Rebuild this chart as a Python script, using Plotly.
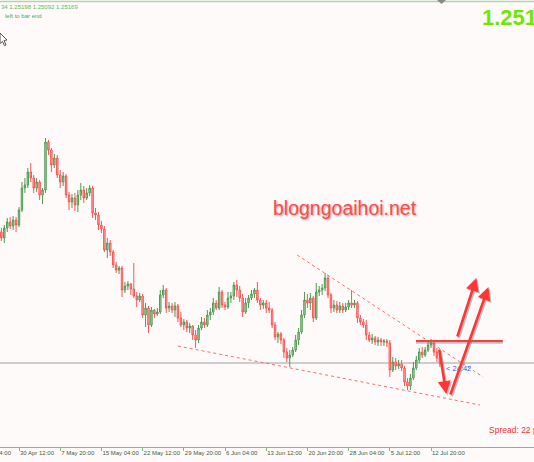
import plotly.graph_objects as go

W, H = 534, 462
PLOT_H = 447

# ---- data (GBPUSD H4, prices) ----
bar_index = list(range(150))
opens = [1.2648,1.2642,1.2652,1.2658,1.2654,1.2660,1.2655,1.2670,1.2692,1.2695,
         1.2708,1.2702,1.2692,1.2698,1.2685,1.2690,1.2738,1.2730,1.2715,1.2722,
         1.2705,1.2698,1.2704,1.2685,1.2678,1.2682,1.2675,1.2685,1.2690,1.2682,
         1.2687,1.2692,1.2667,1.2665,1.2655,1.2651,1.2630,1.2637,1.2628,1.2615,
         1.2610,1.2612,1.2590,1.2594,1.2596,1.2591,1.2584,1.2580,1.2584,1.2565,
         1.2572,1.2555,1.2570,1.2566,1.2568,1.2585,1.2590,1.2572,1.2574,1.2570,
         1.2574,1.2562,1.2555,1.2558,1.2552,1.2554,1.2545,1.2540,1.2552,1.2558,
         1.2555,1.2565,1.2568,1.2577,1.2572,1.2588,1.2575,1.2573,1.2582,1.2584,
         1.2595,1.2590,1.2582,1.2568,1.2577,1.2582,1.2586,1.2590,1.2580,1.2575,
         1.2577,1.2572,1.2570,1.2555,1.2543,1.2546,1.2540,1.2528,1.2522,1.2525,
         1.2530,1.2540,1.2548,1.2565,1.2580,1.2577,1.2582,1.2562,1.2588,1.2590,
         1.2592,1.2602,1.2585,1.2572,1.2575,1.2570,1.2574,1.2570,1.2573,1.2577,
         1.2575,1.2577,1.2562,1.2558,1.2555,1.2545,1.2540,1.2542,1.2538,1.2540,
         1.2538,1.2539,1.2537,1.2510,1.2518,1.2514,1.2516,1.2512,1.2498,1.2494,
         1.2502,1.2512,1.2520,1.2528,1.2525,1.2530,1.2535,1.2537,1.2528,1.2522]
highs = [1.2652,1.2655,1.2662,1.2663,1.2664,1.2663,1.2673,1.2698,1.2702,1.2712,
         1.2717,1.2705,1.2702,1.2700,1.2692,1.2742,1.2740,1.2732,1.2726,1.2725,
         1.2710,1.2708,1.2706,1.2688,1.2686,1.2687,1.2690,1.2697,1.2694,1.2692,
         1.2695,1.2694,1.2672,1.2668,1.2659,1.2654,1.2642,1.2640,1.2630,1.2618,
         1.2614,1.2614,1.2598,1.2599,1.2597,1.2617,1.2588,1.2587,1.2586,1.2577,
         1.2574,1.2573,1.2571,1.2572,1.2590,1.2595,1.2592,1.2578,1.2577,1.2578,
         1.2576,1.2568,1.2561,1.2560,1.2557,1.2555,1.2550,1.2555,1.2563,1.2562,
         1.2570,1.2572,1.2582,1.2580,1.2593,1.2590,1.2578,1.2588,1.2588,1.2598,
         1.2600,1.2594,1.2586,1.2582,1.2585,1.2590,1.2592,1.2598,1.2582,1.2580,
         1.2580,1.2578,1.2572,1.2558,1.2548,1.2548,1.2542,1.2532,1.2530,1.2533,
         1.2545,1.2552,1.2570,1.2588,1.2586,1.2587,1.2584,1.2597,1.2594,1.2596,
         1.2607,1.2605,1.2587,1.2580,1.2579,1.2578,1.2577,1.2577,1.2580,1.2590,
         1.2580,1.2579,1.2565,1.2561,1.2560,1.2548,1.2546,1.2544,1.2543,1.2542,
         1.2541,1.2541,1.2540,1.2523,1.2522,1.2520,1.2520,1.2514,1.2502,1.2506,
         1.2518,1.2524,1.2532,1.2533,1.2533,1.2538,1.2541,1.2539,1.2532,1.2525]
lows = [1.2639,1.2637,1.2648,1.2651,1.2650,1.2648,1.2653,1.2668,1.2687,1.2692,
        1.2698,1.2687,1.2688,1.2680,1.2676,1.2687,1.2725,1.2708,1.2712,1.2702,
        1.2692,1.2694,1.2682,1.2670,1.2672,1.2669,1.2668,1.2680,1.2677,1.2680,
        1.2684,1.2662,1.2660,1.2650,1.2647,1.2628,1.2622,1.2624,1.2612,1.2607,
        1.2606,1.2583,1.2587,1.2590,1.2585,1.2582,1.2573,1.2578,1.2562,1.2553,
        1.2547,1.2553,1.2562,1.2564,1.2566,1.2582,1.2567,1.2568,1.2567,1.2563,
        1.2558,1.2553,1.2550,1.2548,1.2547,1.2540,1.2532,1.2537,1.2550,1.2552,
        1.2553,1.2560,1.2565,1.2570,1.2570,1.2572,1.2570,1.2571,1.2577,1.2580,
        1.2583,1.2578,1.2563,1.2566,1.2572,1.2580,1.2582,1.2577,1.2570,1.2571,
        1.2567,1.2567,1.2552,1.2540,1.2537,1.2536,1.2522,1.2518,1.2513,1.2523,
        1.2528,1.2535,1.2546,1.2562,1.2572,1.2570,1.2558,1.2560,1.2584,1.2585,
        1.2589,1.2582,1.2567,1.2568,1.2567,1.2567,1.2567,1.2568,1.2570,1.2572,
        1.2572,1.2557,1.2555,1.2552,1.2540,1.2538,1.2536,1.2535,1.2534,1.2534,
        1.2534,1.2533,1.2503,1.2508,1.2510,1.2511,1.2509,1.2494,1.2490,1.2490,
        1.2500,1.2510,1.2517,1.2522,1.2523,1.2528,1.2532,1.2524,1.2518,1.2513]
closes = [1.2642,1.2652,1.2658,1.2654,1.2660,1.2655,1.2670,1.2692,1.2695,1.2708,
          1.2702,1.2692,1.2698,1.2685,1.2690,1.2738,1.2730,1.2715,1.2722,1.2705,
          1.2698,1.2704,1.2685,1.2678,1.2682,1.2675,1.2685,1.2690,1.2682,1.2687,
          1.2692,1.2667,1.2665,1.2655,1.2651,1.2630,1.2637,1.2628,1.2615,1.2610,
          1.2612,1.2590,1.2594,1.2596,1.2591,1.2584,1.2580,1.2584,1.2565,1.2572,
          1.2555,1.2570,1.2566,1.2568,1.2585,1.2590,1.2572,1.2574,1.2570,1.2574,
          1.2562,1.2555,1.2558,1.2552,1.2554,1.2545,1.2540,1.2552,1.2558,1.2555,
          1.2565,1.2568,1.2577,1.2572,1.2588,1.2575,1.2573,1.2582,1.2584,1.2595,
          1.2590,1.2582,1.2568,1.2577,1.2582,1.2586,1.2590,1.2580,1.2575,1.2577,
          1.2572,1.2570,1.2555,1.2543,1.2546,1.2540,1.2528,1.2522,1.2525,1.2530,
          1.2540,1.2548,1.2565,1.2580,1.2577,1.2582,1.2562,1.2588,1.2590,1.2592,
          1.2602,1.2585,1.2572,1.2575,1.2570,1.2574,1.2570,1.2573,1.2577,1.2575,
          1.2577,1.2562,1.2558,1.2555,1.2545,1.2540,1.2542,1.2538,1.2540,1.2538,
          1.2539,1.2537,1.2510,1.2518,1.2514,1.2516,1.2512,1.2498,1.2494,1.2502,
          1.2512,1.2520,1.2528,1.2525,1.2530,1.2535,1.2537,1.2528,1.2522,1.2517]

tick_bars = [6, 20, 34, 48, 62, 76, 90, 104, 118, 132, 146]
tick_labels = ["30 Apr 12:00", "7 May 20:00", "15 May 04:00", "22 May 12:00",
               "29 May 20:00", "6 Jun 04:00", "13 Jun 12:00", "20 Jun 20:00",
               "28 Jun 04:00", "5 Jul 12:00", "12 Jul 20:00"]

bid_price = 1.2517
# hand-drawn objects (bar index, price)
lower_trend = [(60.0, 1.2534), (162.6, 1.2475)]
upper_trend = [(100.5, 1.2625), (163.7, 1.2503)]
resist_line = [(140.9, 1.2539), (170.4, 1.2539)]
arrows = [  # (tail, head)
    ((148.7, 1.2532), (151.2, 1.2486)),
    ((152.4, 1.2484), (165.5, 1.2593)),
    ((154.8, 1.2542), (161.4, 1.2602)),
]

X_RANGE = [-0.46, 180.99]
Y_RANGE = [1.2433, 1.2880]

def px(x):
    return x / W

def py(y):
    return 1 - y / PLOT_H

fig = go.Figure()
fig.add_trace(go.Candlestick(
    x=bar_index, open=opens, high=highs, low=lows, close=closes,
    increasing=dict(line=dict(color="#4e9a4e", width=1), fillcolor="#b2dab2"),
    decreasing=dict(line=dict(color="#ff5252", width=1), fillcolor="#ffaeae"),
    whiskerwidth=0, hoverinfo="skip", showlegend=False,
))

shapes = []
# bid line
shapes.append(dict(type="line", xref="paper", x0=0, x1=1, yref="y", y0=bid_price, y1=bid_price,
                   line=dict(color="#cdcdcd", width=2), layer="below"))
for seg in (lower_trend, upper_trend):
    shapes.append(dict(type="line", xref="x", yref="y", x0=seg[0][0], y0=seg[0][1],
                       x1=seg[1][0], y1=seg[1][1], line=dict(color="#ff6a6a", width=1, dash="dot")))
# resistance line with shadow
shapes.append(dict(type="line", xref="x", yref="y", x0=resist_line[0][0], y0=resist_line[0][1] - 0.00018,
                   x1=resist_line[1][0], y1=resist_line[1][1] - 0.00018,
                   line=dict(color="rgba(120,120,120,0.45)", width=2)))
shapes.append(dict(type="line", xref="x", yref="y", x0=resist_line[0][0], y0=resist_line[0][1],
                   x1=resist_line[1][0], y1=resist_line[1][1], line=dict(color="#ff3b3b", width=2)))
# top border line
shapes.append(dict(type="line", xref="paper", yref="paper", x0=0, x1=1, y0=py(1.5), y1=py(1.5),
                   line=dict(color="#a9d9a9", width=1.5)))
# chart shift marker
shapes.append(dict(type="path", xref="paper", yref="paper",
                   path=f"M {px(437)} {py(0)} L {px(446)} {py(0)} L {px(441.5)} {py(4)} Z",
                   fillcolor="#8a8a8a", line=dict(width=0)))
# mouse cursor
cur = [(0, 33), (7, 40), (4, 40.5), (6, 45), (4.5, 45.7), (2.5, 41.5), (0, 43.5)]
shapes.append(dict(type="path", xref="paper", yref="paper",
                   path="M " + " L ".join(f"{px(a)} {py(b)}" for a, b in cur) + " Z",
                   fillcolor="white", line=dict(color="#555555", width=1)))

annotations = []
# partial first time label
annotations.append(dict(xref="paper", yref="paper", x=px(-25), y=py(453), xanchor="left", yanchor="middle",
                        text="23 Apr 04:00", showarrow=False,
                        font=dict(family="Liberation Sans, Arial", size=6, color="#3d5a3d")))
# countdown text
annotations.append(dict(xref="paper", yref="paper", x=px(444), y=py(368), xanchor="left", yanchor="middle",
                        text="< 24:42", showarrow=False,
                        font=dict(family="Liberation Sans, Arial", size=7.5, color="#3b4dff")))
# arrows with shadow
for (tx, ty), (hx, hy) in arrows:
    annotations.append(dict(x=hx + 0.45, y=hy - 0.00015, ax=tx + 0.45, ay=ty - 0.00015,
                            xref="x", yref="y", axref="x", ayref="y", text="", showarrow=True,
                            arrowhead=2, arrowsize=1.0, arrowwidth=2.6, arrowcolor="rgba(110,110,110,0.45)"))
for (tx, ty), (hx, hy) in arrows:
    annotations.append(dict(x=hx, y=hy, ax=tx, ay=ty,
                            xref="x", yref="y", axref="x", ayref="y", text="", showarrow=True,
                            arrowhead=2, arrowsize=1.0, arrowwidth=2.6, arrowcolor="#ff3535"))
# watermark
annotations.append(dict(xref="paper", yref="paper", x=px(345), y=py(208), xanchor="center", yanchor="middle",
                        text="blogngoaihoi.net", showarrow=False,
                        font=dict(family="Liberation Sans, Arial", size=19.5, color="#ff4b4b",
                                  shadow="1px 1px 2px rgba(0,0,0,0.35)")))
# big price
annotations.append(dict(xref="paper", yref="paper", x=px(480), y=py(18), xanchor="left", yanchor="middle",
                        text="<b>1.25169</b>", showarrow=False,
                        font=dict(family="Liberation Sans, Arial", size=22, color="#6ee800")))
# top-left info
annotations.append(dict(xref="paper", yref="paper", x=px(-1), y=py(7), xanchor="left", yanchor="middle",
                        text="34 1.25198 1.25092 1.25169", showarrow=False,
                        font=dict(family="Liberation Sans, Arial", size=6, color="#5cb85c")))
annotations.append(dict(xref="paper", yref="paper", x=px(3), y=py(16), xanchor="left", yanchor="middle",
                        text="left to bar end", showarrow=False,
                        font=dict(family="Liberation Sans, Arial", size=6, color="#3caa70")))
# spread
annotations.append(dict(xref="paper", yref="paper", x=px(487), y=py(430), xanchor="left", yanchor="middle",
                        text="Spread: 22 points", showarrow=False,
                        font=dict(family="Liberation Sans, Arial", size=8.5, color="#ff2a2a")))

fig.update_layout(
    width=W, height=H, autosize=False,
    margin=dict(l=0, r=0, t=0, b=H - PLOT_H, pad=0),
    paper_bgcolor="#fffafa", plot_bgcolor="#fffafa",
    showlegend=False, hovermode=False,
    shapes=shapes, annotations=annotations,
    xaxis=dict(range=X_RANGE, showgrid=False, zeroline=False, showline=True,
               linecolor="#78c078", linewidth=1, ticks="outside", ticklen=3, tickcolor="#78c078",
               tickvals=tick_bars, ticktext=tick_labels, ticklabelposition="outside right",
               tickangle=0,
               tickfont=dict(family="Liberation Sans, Arial", size=6, color="#3d5a3d"),
               rangeslider=dict(visible=False), fixedrange=True),
    yaxis=dict(range=Y_RANGE, visible=False, fixedrange=True),
)

fig.write_html("out.html", config={"displayModeBar": False},
               post_script="document.body.style.margin='0';document.body.style.overflow='hidden';")
